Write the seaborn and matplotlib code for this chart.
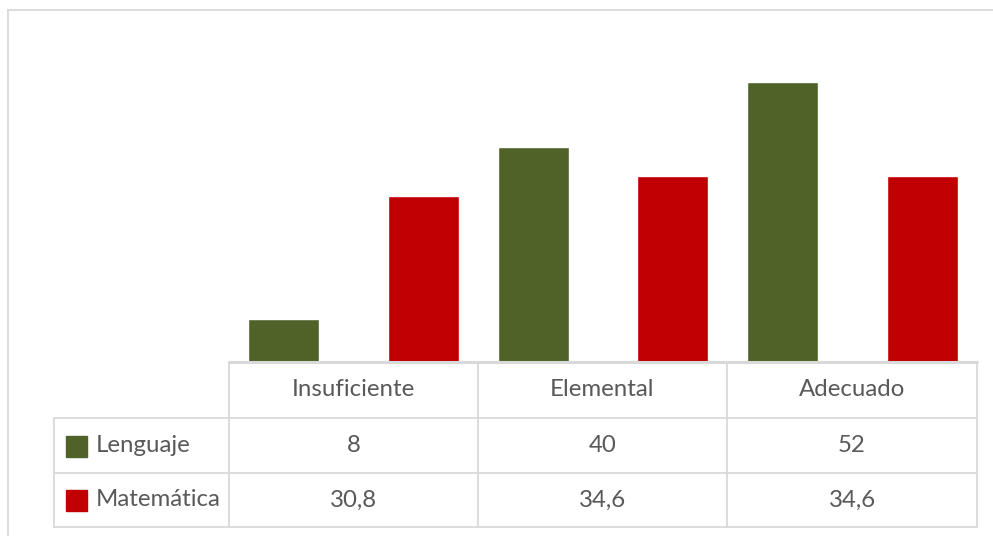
import matplotlib
matplotlib.use("Agg")
import matplotlib.pyplot as plt
import seaborn as sns
import pandas as pd
from matplotlib.lines import Line2D
from matplotlib.patches import Rectangle

categories = ["Insuficiente", "Elemental", "Adecuado"]
series_names = ["Lenguaje", "Matemática"]
lenguaje = [8, 40, 52]
matematica = [30.8, 34.6, 34.6]
value_labels = {
    "Lenguaje": ["8", "40", "52"],
    "Matemática": ["30,8", "34,6", "34,6"],
}
colors = {"Lenguaje": "#4F6228", "Matemática": "#C00000"}

df = pd.DataFrame({
    "cat": categories * 2,
    "serie": [series_names[0]] * 3 + [series_names[1]] * 3,
    "val": lenguaje + matematica,
})

sns.set_theme(style="white")
plt.rcParams["font.family"] = ["Lato", "DejaVu Sans"]

W, H = 993, 536
fig = plt.figure(figsize=(W / 100, H / 100), dpi=100)

def fx(px):
    return px / W

def fy(py):
    return 1 - py / H

ax_left, ax_right, ax_base, ax_top = 229, 977, 362, 39
ax = fig.add_axes([fx(ax_left), fy(ax_base), fx(ax_right - ax_left), (ax_base - ax_top) / H])
sns.barplot(data=df, x="cat", y="val", hue="serie", order=categories,
            hue_order=series_names, palette=colors, width=1.12, gap=0.49,
            saturation=1, ax=ax, legend=False)
ax.set_xlim(-0.5, 2.5)
ax.set_ylim(0, 60)
ax.set_xticks([])
ax.set_yticks([])
ax.set_xlabel("")
ax.set_ylabel("")
for s in ax.spines.values():
    s.set_visible(False)
ax.patch.set_alpha(0)

grid = "#d9d9d9"
txt = "#595959"
lw = 1.3

def hline(y, x0, x1, w=lw):
    fig.add_artist(Line2D([fx(x0), fx(x1)], [fy(y), fy(y)], color=grid, lw=w, transform=fig.transFigure))

def vline(x, y0, y1, w=lw):
    fig.add_artist(Line2D([fx(x), fx(x)], [fy(y0), fy(y1)], color=grid, lw=w, transform=fig.transFigure))

# outer frame
hline(9.5, 8, W + 5)
vline(8, 9.5, H + 5)

# table
col_x = [229, 478, 727, 977]
row_y = [362, 418, 473, 527]
lab_x = 54
hline(row_y[0], col_x[0], col_x[-1], w=2.2)
for y in row_y[1:]:
    hline(y, lab_x, col_x[-1])
for x in col_x:
    vline(x, row_y[0], row_y[-1])
vline(lab_x, row_y[1], row_y[-1])

fs = 17.3
for i, c in enumerate(categories):
    cx = (col_x[i] + col_x[i + 1]) / 2
    fig.text(fx(cx), fy((row_y[0] + row_y[1]) / 2), c, ha="center", va="center",
             color=txt, fontsize=fs)
    for r, s in enumerate(series_names):
        fig.text(fx(cx), fy((row_y[r + 1] + row_y[r + 2]) / 2), value_labels[s][i],
                 ha="center", va="center", color=txt, fontsize=fs)

for r, s in enumerate(series_names):
    yc = (row_y[r + 1] + row_y[r + 2]) / 2
    fig.add_artist(Rectangle((fx(66), fy(yc + 11)), fx(21), 21 / H,
                             color=colors[s], transform=fig.transFigure))
    fig.text(fx(96), fy(yc), s, ha="left", va="center", color=txt, fontsize=fs)

fig.savefig("out.png", dpi=100)
